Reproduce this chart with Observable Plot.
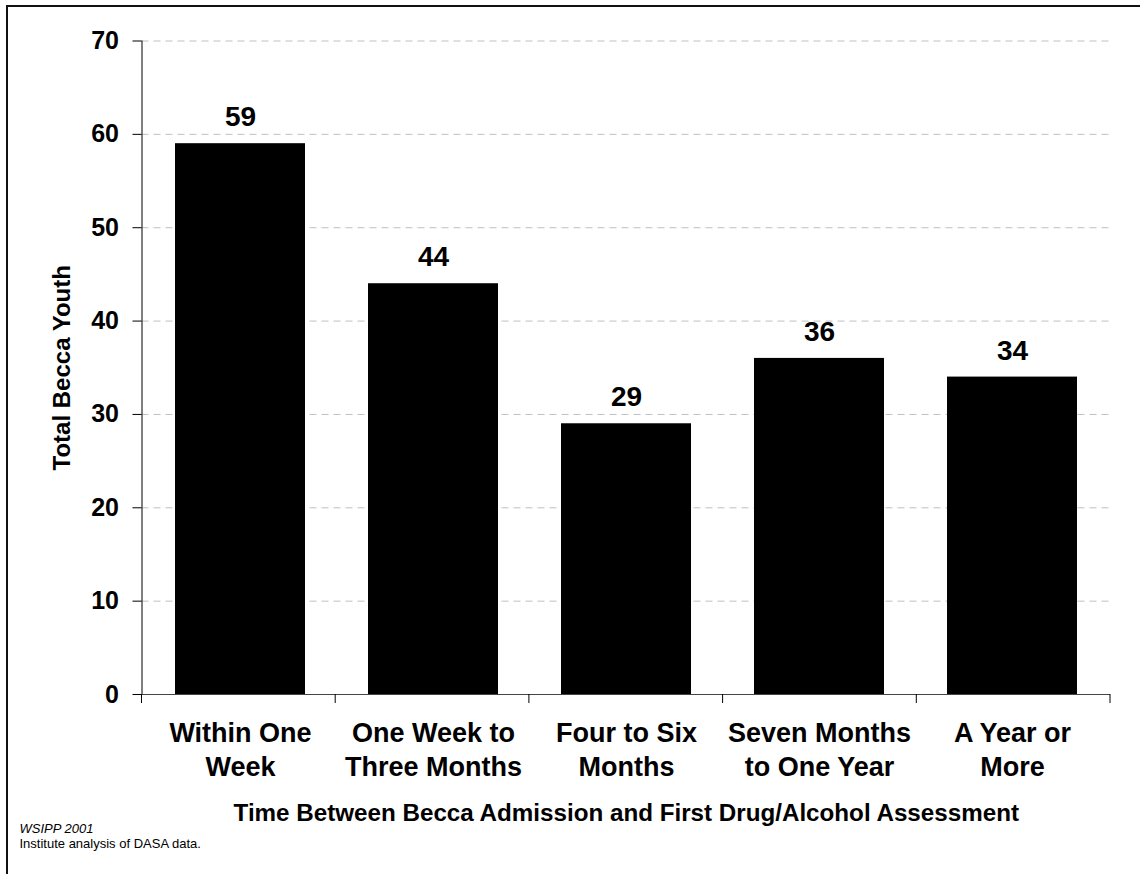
<!DOCTYPE html>
<html><head><meta charset="utf-8">
<script src="https://cdn.jsdelivr.net/npm/d3@7"></script>
<script src="https://cdn.jsdelivr.net/npm/@observablehq/plot@0.6"></script>
<style>
body{margin:0;background:#fff;}
#wrap{position:relative;width:1140px;height:874px;overflow:hidden;background:#fff;}
#border{position:absolute;left:6px;top:5px;width:1200px;height:1000px;border-left:2px solid #111;border-top:2px solid #111;}
#wrap svg{position:absolute;left:0;top:0;}
</style></head><body><div id="wrap"><div id="border"></div></div>
<script>
const categories = ["Within One\nWeek", "One Week to\nThree Months", "Four to Six\nMonths", "Seven Months\nto One Year", "A Year or\nMore"];
const values = [59, 44, 29, 36, 34];
const yTicks = [0, 10, 20, 30, 40, 50, 60, 70];
const gridTicks = [10, 20, 30, 40, 50, 60, 70];
const yLabel = "Total Becca Youth";
const xLabel = "Time Between Becca Admission and First Drug/Alcohol Assessment";
const sourceLine = "WSIPP 2001";
const noteLine = "Institute analysis of DASA data.";

const data = categories.map((c, i) => ({category: c, value: values[i]}));
const pInner = 0.325, pOuter = pInner / 2;
const font = "Arial, 'Liberation Sans', sans-serif";

const plot = Plot.plot({
  width: 1140, height: 874,
  marginTop: 40.5, marginBottom: 180, marginLeft: 141.5, marginRight: 30,
  style: {fontFamily: font, background: "transparent", color: "black", overflow: "visible"},
  x: {domain: categories, paddingInner: pInner, paddingOuter: pOuter, align: 0.5, label: null},
  y: {domain: [0, 70], label: null},
  marks: [
    Plot.gridY(gridTicks, {stroke: "#c0c0c0", strokeOpacity: 1, strokeDasharray: "7,5"}),
    Plot.barY(data, {x: "category", y: "value", fill: "black"}),
    Plot.frame({anchor: "left", stroke: "black"}),
    Plot.ruleY([0], {stroke: "#444"}),
    Plot.axisY(yTicks, {tickSize: 9, tickPadding: 14, fontSize: 25, fontWeight: "bold", label: null}),
    Plot.axisX({tickSize: 0, tickPadding: 23, fontSize: 27, fontWeight: "bold", lineHeight: 1.26, label: null}),
    Plot.text(data, {x: "category", y: "value", text: d => String(d.value), dy: -17.5, lineAnchor: "bottom", fontSize: 28, fontWeight: "bold", fill: "black"}),
    Plot.text([yLabel], {frameAnchor: "left", dx: -72.5, rotate: -90, textAnchor: "middle", lineAnchor: "bottom", text: d => d, fontSize: 24, fontWeight: "bold", fill: "black"}),
    Plot.text([xLabel], {frameAnchor: "bottom", dy: 126, lineAnchor: "bottom", text: d => d, fontSize: 24.2, fontWeight: "bold", fill: "black"}),
    Plot.text([sourceLine], {frameAnchor: "bottom-left", dx: -122.5, dy: 138, textAnchor: "start", lineAnchor: "bottom", text: d => d, fontSize: 13, fontStyle: "italic", fill: "black"}),
    Plot.text([noteLine], {frameAnchor: "bottom-left", dx: -122.5, dy: 153, textAnchor: "start", lineAnchor: "bottom", text: d => d, fontSize: 13, fill: "black"})
  ]
});

// category boundary ticks below the baseline, derived from the x band scale
const xs = plot.scale("x"), ys = plot.scale("y");
const [r0, r1] = xs.range;
const n = categories.length;
const step = (r1 - r0) / (n - pInner + 2 * pOuter);
const y0 = ys.range[0];
d3.select(plot).append("g")
  .selectAll("line").data(d3.range(n + 1)).join("line")
  .attr("x1", k => r0 + k * step).attr("x2", k => r0 + k * step)
  .attr("y1", y0).attr("y2", y0 + 9)
  .attr("stroke", "black");

document.getElementById("wrap").appendChild(plot);
</script></body></html>
